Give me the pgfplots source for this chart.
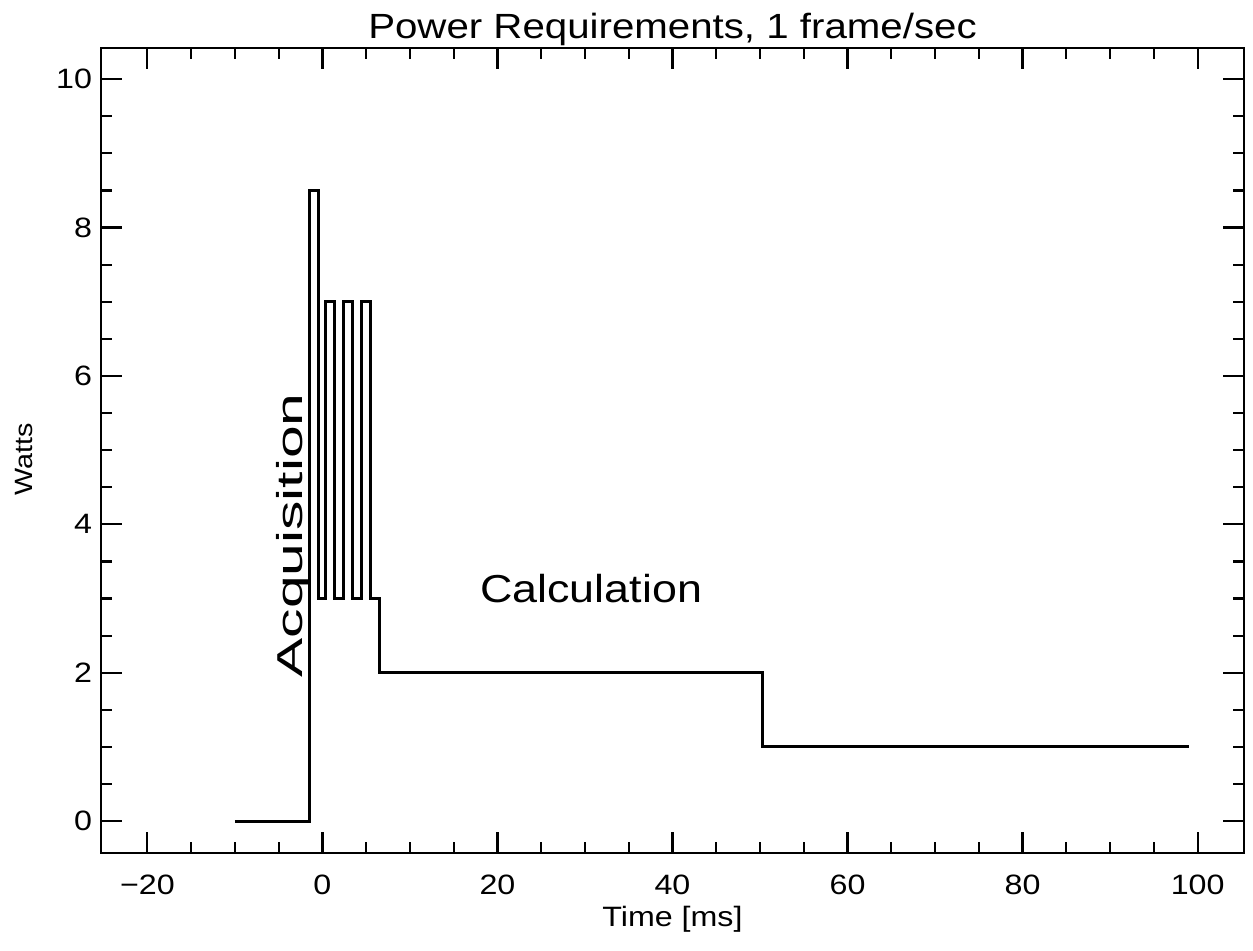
\documentclass[border=0pt]{standalone}
\usepackage{pgfplots}
\pgfplotsset{compat=1.18}
\usepackage{fontspec}
\setmainfont[FakeStretch=1.15]{Liberation Sans}
\begin{document}
\begin{tikzpicture}
\useasboundingbox (-50.5pt,-49pt) rectangle (576pt,426.5pt);
\begin{axis}[
  anchor=south west, at={(0pt,0pt)},
  scale only axis,
  width=571.5pt, height=402.5pt,
  xmin=-25.3, xmax=105.3,
  ymin=-0.43, ymax=10.42,
  xtick={-20,0,20,40,60,80,100},
  xticklabels={−20,0,20,40,60,80,100},
  ytick={0,2,4,6,8,10},
  yticklabels={0,2,4,6,8,10},
  minor x tick num=3,
  minor y tick num=3,
  tick align=inside,
  major tick length=10.5pt,
  minor tick length=5.5pt,
  every tick/.style={black, line width=1.1pt},
  axis line style={line width=1.4pt},
  xticklabel style={font=\fontsize{14}{16}\selectfont, yshift=-7.5pt},
  yticklabel style={font=\fontsize{14}{16}\selectfont, xshift=-1pt},
  /pgf/number format/assume math mode=true,
  clip=false,
]
\addplot[black, line width=1.5pt, line join=miter] coordinates {
(-10,0) (-1.45,0) (-1.45,8.5) (-0.45,8.5) (-0.45,3) (0.4,3) (0.4,7) (1.4,7) (1.4,3)
(2.4,3) (2.4,7) (3.4,7) (3.4,3) (4.5,3) (4.5,7) (5.5,7) (5.5,3) (6.5,3) (6.5,2)
(50.3,2) (50.3,1) (99,1)
};
\node[font=\fontsize{19.5}{22}\selectfont] at (axis cs:30.7,3.13) {Calculation};
\node[font=\fontsize{18}{22}\selectfont, rotate=90] at (axis cs:-3.3,3.85) {\scalebox{1.42}[1]{Acquisition}};
\end{axis}
\node[anchor=base, font=\fontsize{17.5}{20}\selectfont] at ([yshift=4.75pt]current axis.north) {Power Requirements, 1 frame/sec};
\node[anchor=base, font=\fontsize{14}{16}\selectfont] at ([yshift=-37pt]current axis.south) {Time [ms]};
\node[anchor=base, rotate=90, font=\fontsize{12.5}{15}\selectfont] at ([xshift=-34pt,yshift=-4.25pt]current axis.west) {Watts};
\end{tikzpicture}
\end{document}
